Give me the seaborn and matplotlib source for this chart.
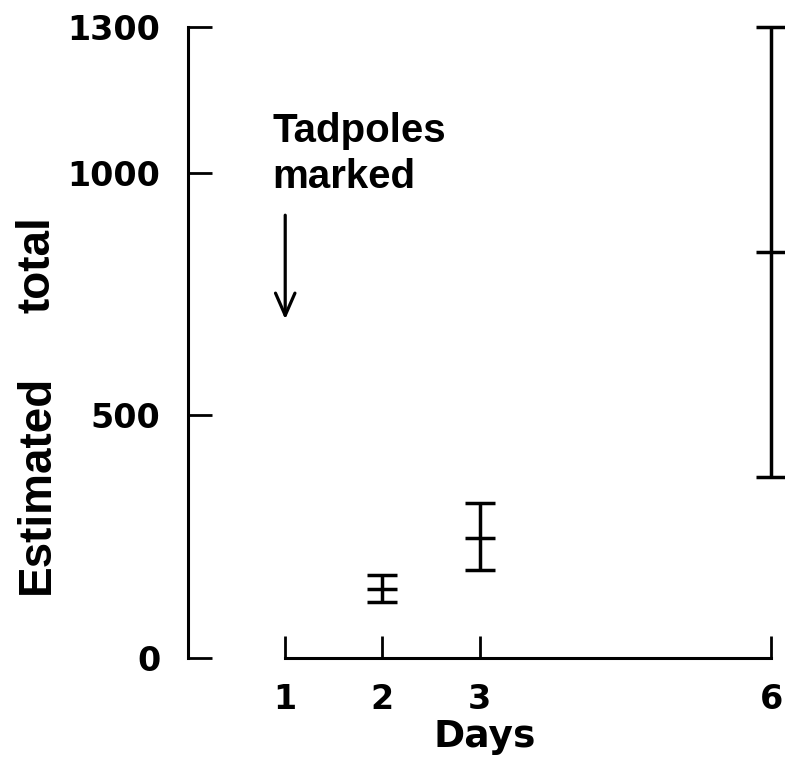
import matplotlib
matplotlib.use("Agg")
import matplotlib.pyplot as plt
import seaborn as sns
import pandas as pd

days = [2, 3, 6]
estimate = [142, 248, 836]
lower = [115, 181, 372]
upper = [172, 320, 1300]
xticks = [1, 2, 3, 6]
yticks = [0, 500, 1000, 1300]

sns.set_style("ticks")
plt.rcParams['font.family'] = ['Liberation Sans', 'DejaVu Sans']
plt.rcParams['font.weight'] = 'bold'
plt.rcParams['text.color'] = 'black'
plt.rcParams['axes.labelcolor'] = 'black'

fig = plt.figure(figsize=(7.85, 7.57), dpi=100)
ax = fig.add_axes([0.2395, 0.1308, 0.7554, 0.8335])

df = pd.DataFrame({"day": days, "est": estimate, "lo": lower, "hi": upper})
yerr = [df["est"] - df["lo"], df["hi"] - df["est"]]
ax.errorbar(df["day"], df["est"], yerr=yerr, fmt='none', ecolor='black',
            elinewidth=2.5, capsize=11, capthick=2.5, clip_on=False, zorder=3)
sns.scatterplot(data=df, x="day", y="est", marker='_', s=480, color='black',
                linewidth=2.5, ax=ax, clip_on=False, zorder=4, legend=False)

ax.set_xlim(0, 6.1)
ax.set_ylim(0, 1300)
ax.set_xticks(xticks)
ax.set_xticklabels([str(t) for t in xticks])
ax.set_yticks(yticks)
ax.set_yticklabels([str(t) for t in yticks])

for s in ['top', 'right']:
    ax.spines[s].set_visible(False)
ax.spines['left'].set_bounds(0, 1300)
ax.spines['bottom'].set_bounds(1, 6)
for s in ['left', 'bottom']:
    ax.spines[s].set_linewidth(2.2)
    ax.spines[s].set_color('black')

ax.tick_params(axis='y', direction='in', length=17, width=2.0, pad=20,
               labelsize=24, colors='black')
ax.tick_params(axis='x', direction='in', length=16, width=2.0, pad=18,
               labelsize=24, colors='black')
for lab in ax.get_xticklabels() + ax.get_yticklabels():
    lab.set_fontweight('bold')
    lab.set_family('DejaVu Sans')
    lab.set_color('black')

ax.set_xlabel("Days", fontsize=27, fontweight='bold', labelpad=2,
              family='DejaVu Sans', color='black')
ax.set_ylabel("")

ax.text(-0.2546, 0.275, "Estimated", transform=ax.transAxes, rotation=90,
        ha='center', va='center', fontsize=33, fontweight='bold', color='black')
ax.text(-0.2546, 0.623, "total", transform=ax.transAxes, rotation=90,
        ha='center', va='center', fontsize=33, fontweight='bold', color='black')

ax.text(0.866, 1125, "Tadpoles\nmarked", ha='left', va='top', fontsize=29,
        fontweight='bold', linespacing=1.27, color='black')
ax.annotate("", xy=(1, 692), xytext=(1, 918),
            arrowprops=dict(arrowstyle='->,head_length=1.6,head_width=0.7',
                            lw=2.3, color='black'))

ax.grid(False)
fig.savefig("out.png", dpi=100)
